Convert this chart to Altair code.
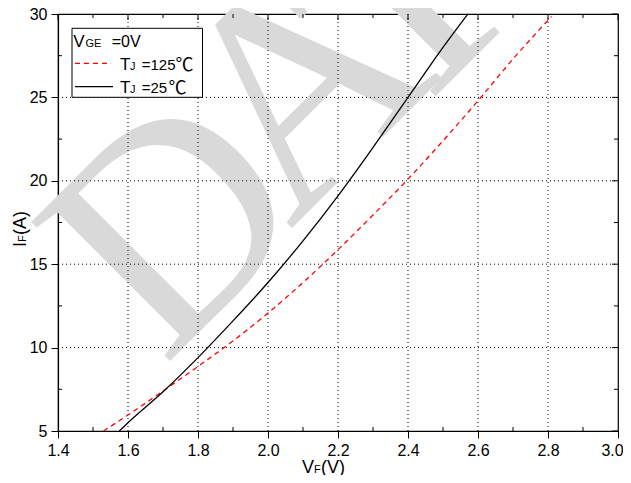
import altair as alt
import pandas as pd

# ---- data ----
v25 = [1.575, 1.6, 1.7, 1.8, 1.9, 2.0, 2.1, 2.2, 2.3, 2.4, 2.5, 2.571]
i25 = [5.0, 5.5, 7.35, 9.4, 11.6, 13.9, 16.4, 19.1, 22.0, 25.0, 28.0, 30.0]

v125 = [1.53, 1.6, 1.7, 1.8, 1.9, 2.0, 2.1, 2.2, 2.3, 2.4, 2.5, 2.6, 2.7, 2.81]
i125 = [5.0, 5.96, 7.4, 8.87, 10.4, 12.07, 13.9, 15.87, 17.95, 20.1, 22.4, 24.8, 27.3, 29.85]

x_ticks = [1.4, 1.6, 1.8, 2.0, 2.2, 2.4, 2.6, 2.8, 3.0]
y_ticks = [5, 10, 15, 20, 25, 30]
x_minor = [1.5, 1.7, 1.9, 2.1, 2.3, 2.5, 2.7, 2.9]
y_minor = [7.5, 12.5, 17.5, 22.5, 27.5]
x_grid = [1.6, 1.8, 2.0, 2.2, 2.4, 2.6, 2.8]
y_grid = [10, 15, 20, 25]

W, H = 560, 417
SANS = "Liberation Sans"
SERIF = "Liberation Serif"
WM = "#d9d9d9"

xscale = alt.Scale(domain=[1.4, 3.0], nice=False, zero=False)
yscale = alt.Scale(domain=[5, 30], nice=False, zero=False)

one = pd.DataFrame({"k": [0]})
df25 = pd.DataFrame({"v": v25, "i": i25})
df125 = pd.DataFrame({"v": v125, "i": i125})


def txt(s, x, y, size, font=SANS, angle=None, color="black"):
    kw = dict(align="left", baseline="alphabetic", font=font, fontSize=size, color=color)
    if angle is not None:
        kw["angle"] = angle
    return alt.Chart(one).mark_text(**kw).encode(
        x=alt.value(x), y=alt.value(y), text=alt.value(s))


common_axis = dict(title=None, grid=False, domainColor="black", domainWidth=1.2,
                   tickColor="black", tickSize=7, tickWidth=1,
                   labelFont=SANS, labelFontSize=16, labelColor="black",
                   labelPadding=4)

xaxis = alt.Axis(values=x_ticks, format=".1f", labelFlush=False,
                 labelOffset={"condition": {"test": "datum.value > 2.95", "value": -6},
                              "value": 0},
                 **common_axis)
yaxis = alt.Axis(values=y_ticks, format="d", **common_axis)


def X(field="v"):
    return alt.X(f"{field}:Q", scale=xscale, axis=xaxis)


def Y(field="i"):
    return alt.Y(f"{field}:Q", scale=yscale, axis=yaxis)


# watermark letters (rotated -45 deg)
watermark = [
    txt("D", 106, 353, 300, font=SERIF, angle=315, color=WM),
    txt("A", 232, 216, 300, font=SERIF, angle=315, color=WM),
    txt("T", 345, 115, 300, font=SERIF, angle=315, color=WM),
]

# dotted grid
grid = [
    alt.Chart(pd.DataFrame({"v": x_grid})).mark_rule(
        color="black", strokeDash=[1, 3], strokeWidth=1).encode(
        x=X("v"), y=alt.value(0), y2=alt.value(H)),
    alt.Chart(pd.DataFrame({"v": y_grid})).mark_rule(
        color="black", strokeDash=[1, 3], strokeWidth=1).encode(
        y=Y("v"), x=alt.value(0), x2=alt.value(W)),
]

red = alt.Chart(df125).mark_line(color="#ff0000", strokeDash=[5, 4], strokeWidth=1.3,
                                 interpolate="monotone").encode(x=X(), y=Y())
black = alt.Chart(df25).mark_line(color="black", strokeWidth=1.3,
                                  interpolate="monotone").encode(x=X(), y=Y())

# inner ticks (bottom/left minor, top/right major+minor)
dxm = pd.DataFrame({"v": x_minor})
dym = pd.DataFrame({"v": y_minor})
dxM = pd.DataFrame({"v": x_ticks})
dyM = pd.DataFrame({"v": y_ticks})
tick_layers = [
    alt.Chart(dxm).mark_rule(color="black").encode(x=X("v"), y=alt.value(H), y2=alt.value(H - 4)),
    alt.Chart(dxm).mark_rule(color="black").encode(x=X("v"), y=alt.value(0), y2=alt.value(4)),
    alt.Chart(dxM).mark_rule(color="black").encode(x=X("v"), y=alt.value(0), y2=alt.value(6)),
    alt.Chart(dym).mark_rule(color="black").encode(y=Y("v"), x=alt.value(0), x2=alt.value(4)),
    alt.Chart(dym).mark_rule(color="black").encode(y=Y("v"), x=alt.value(W), x2=alt.value(W - 4)),
    alt.Chart(dyM).mark_rule(color="black").encode(y=Y("v"), x=alt.value(W), x2=alt.value(W - 6)),
]

# legend
legend_box = alt.Chart(one).mark_rect(fill="white", stroke="black", strokeWidth=1).encode(
    x=alt.value(14), x2=alt.value(144.5), y=alt.value(14.3), y2=alt.value(83.3))
leg_red = alt.Chart(one).mark_rule(color="#ff0000", strokeDash=[5, 4], strokeWidth=1.3).encode(
    x=alt.value(17), x2=alt.value(52), y=alt.value(49.3))
leg_black = alt.Chart(one).mark_rule(color="black", strokeWidth=1.3).encode(
    x=alt.value(17), x2=alt.value(55), y=alt.value(72.7))
legend_texts = [
    txt("V", 15.3, 33.3, 17), txt("GE", 27.5, 33.3, 11), txt("=0V", 53.7, 33.3, 16),
    txt("T", 62, 56, 17), txt("J", 72, 56, 11), txt("=125", 83.7, 56, 15),
    txt("℃", 117.5, 57, 18, font="Noto Sans CJK SC"),
    txt("T", 62, 79.3, 17), txt("J", 72, 79.3, 11), txt("=25", 83.7, 79.3, 15),
    txt("℃", 110.5, 80.3, 18, font="Noto Sans CJK SC"),
]

# axis titles with subscripts
titles = [
    txt("V", 244, 459, 18), txt("F", 256, 459, 11), txt("(V)", 263, 459, 18),
    txt("I", -32, 233, 18, angle=270), txt("F", -32, 228, 11, angle=270),
    txt("(A)", -32, 221, 18, angle=270),
]

chart = alt.layer(
    *watermark, *grid, red, black, *tick_layers, legend_box, leg_red, leg_black,
    *legend_texts, *titles
).properties(
    width=W, height=H,
    padding={"left": 50, "top": 6, "right": 5, "bottom": 44},
    autosize=alt.AutoSizeParams(type="none"),
).configure_view(stroke="black", strokeWidth=1.2)

chart.save("out.html", embed_options={"renderer": "svg", "actions": False})
